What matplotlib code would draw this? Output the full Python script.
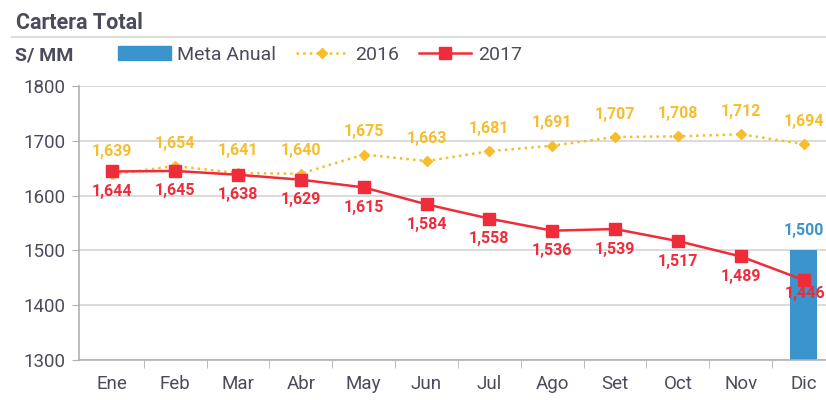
import numpy as np
import matplotlib as mpl
mpl.use('Agg')
import matplotlib.pyplot as plt
from matplotlib.patches import Patch
from matplotlib.lines import Line2D

meses = ['Ene', 'Feb', 'Mar', 'Abr', 'May', 'Jun', 'Jul', 'Ago', 'Set', 'Oct', 'Nov', 'Dic']
v2016 = [1639, 1654, 1641, 1640, 1675, 1663, 1681, 1691, 1707, 1708, 1712, 1694]
v2017 = [1644, 1645, 1638, 1629, 1615, 1584, 1558, 1536, 1539, 1517, 1489, 1446]
meta_mes = 'Dic'
meta_val = 1500

clr_txt = '#4b4b5c'
clr_grid = '#d4d4d4'
clr_16 = '#f7bd2c'
clr_17 = '#ee2c3a'
clr_bar = '#3b94cc'

mpl.rcParams.update({'font.family': ['Roboto', 'DejaVu Sans'], 'font.size': 13})

fig = plt.figure(figsize=(8.26, 4.0), dpi=100, facecolor='w')
ax = fig.add_axes([79/826, 40/400, 756/826, 274/400])

x = np.arange(len(meses))
ib = meses.index(meta_mes)
ax.bar([ib], [meta_val - 1300], bottom=1300, width=0.42, color=clr_bar, zorder=2)
ax.annotate(f'{meta_val:,}', (ib, meta_val), xytext=(0, 9), textcoords='offset points',
            color=clr_bar, ha='center', va='bottom', fontsize=11.5, fontweight='bold')

ax.plot(x, v2016, ':', color=clr_16, lw=1.8, marker='D', ms=5, zorder=3)
ax.plot(x, v2017, '-', color=clr_17, lw=1.8, marker='s', ms=9, zorder=4)

for i in range(len(x)):
    ax.annotate(f'{v2016[i]:,}', (x[i], v2016[i]), xytext=(0, 11), textcoords='offset points',
                ha='center', va='bottom', color=clr_16, fontsize=11.5, fontweight='bold')
    dx, dy = (1, -4) if i == len(x) - 1 else (0, -9)
    ax.annotate(f'{v2017[i]:,}', (x[i], v2017[i]), xytext=(dx, dy), textcoords='offset points',
                ha='center', va='top', color=clr_17, fontsize=11.5, fontweight='bold', zorder=5,
                annotation_clip=False)

ax.set_xlim(-0.53, 11.5)
ax.set_ylim(1300, 1800)
ax.set_yticks(np.arange(1300, 1801, 100))
ax.set_xticks(x)
ax.set_xticklabels(meses)
ax.set_xticks(np.arange(0.5, 11, 1), minor=True)
ax.tick_params(axis='x', which='major', length=0, pad=11, colors=clr_txt, labelsize=13.5)
ax.tick_params(axis='x', which='minor', length=6, color='#b0b0b0', direction='out')
ax.tick_params(axis='y', length=5, color='#b0b0b0', colors=clr_txt, labelsize=13.5, pad=5)
ax.grid(axis='y', color=clr_grid, lw=1.2, zorder=0)
ax.set_axisbelow(True)
for s in ['top', 'right']:
    ax.spines[s].set_visible(False)
for s in ['left', 'bottom']:
    ax.spines[s].set_color('#b0b0b0')
    ax.spines[s].set_linewidth(1.2)

fig.text(16/826, 1 - 23/400, 'Cartera Total', fontsize=15.5, fontweight='bold', color=clr_txt,
         va='center', ha='left')
fig.add_artist(Line2D([12/826, 1], [1 - 37/400, 1 - 37/400], color='#dcdcdc', lw=1.5))
fig.text(15/826, 1 - 56/400, 'S/ MM', fontsize=14, fontweight='bold', color=clr_txt,
         va='center', ha='left')

handles = [Patch(color=clr_bar),
           Line2D([], [], ls=':', color=clr_16, lw=1.8, marker='D', ms=5),
           Line2D([], [], ls='-', color=clr_17, lw=1.8, marker='s', ms=9)]
leg = fig.legend(handles, ['Meta Anual', '2016', '2017'], loc='center left',
                 bbox_to_anchor=(118/826, 1 - 55/400), ncol=3, frameon=False, borderpad=0,
                 borderaxespad=0, handlelength=2.7, handleheight=0.75, columnspacing=1.0,
                 handletextpad=0.35, fontsize=14)
for t in leg.get_texts():
    t.set_color(clr_txt)

fig.savefig('out.png', dpi=100, facecolor='w')
